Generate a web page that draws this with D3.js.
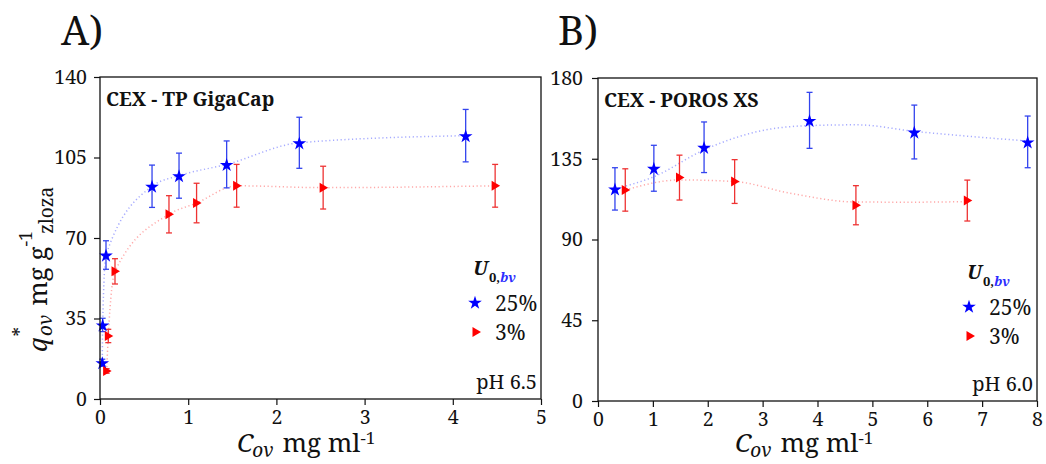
<!doctype html>
<html lang="en">
<head>
<meta charset="utf-8">
<title>q*ov vs Cov</title>
<style>
body { margin: 0; background: #fff; }
svg text { font-family: "Noto Serif", serif; }
</style>
</head>
<body>
<svg id="chart" width="1046" height="464"></svg>
<script src="https://d3js.org/d3.v7.min.js"></script>
<script>
// panel A - CEX TP GigaCap, pH 6.5
var aXTicks = [0, 1, 2, 3, 4, 5];
var aYTicks = [0, 35, 70, 105, 140];
var aStarX = [0.026, 0.03, 0.068, 0.59, 0.896, 1.436, 2.26, 4.146];
var aStarY = [15.8, 32.2, 62.6, 92.5, 97.1, 102.0, 111.4, 114.5];
var aStarErr = [1.5, 2.9, 6.2, 9.2, 9.8, 10.2, 11.1, 11.4];
var aTriX = [0.075, 0.094, 0.17, 0.782, 1.095, 1.549, 2.53, 4.48];
var aTriY = [12.2, 27.4, 55.5, 80.3, 85.2, 92.7, 91.9, 92.7];
var aTriErr = [1.0, 2.9, 5.5, 8.1, 8.6, 9.3, 9.3, 9.3];

// panel B - CEX POROS XS, pH 6.0
var bXTicks = [0, 1, 2, 3, 4, 5, 6, 7, 8];
var bYTicks = [0, 45, 90, 135, 180];
var bStarX = [0.309, 1.018, 1.933, 3.855, 5.764, 7.83];
var bStarY = [118.2, 129.7, 141.4, 156.4, 149.9, 144.4];
var bStarErr = [11.8, 12.8, 14.1, 15.6, 15.0, 14.4];
var bTriX = [0.497, 1.485, 2.49, 4.70, 6.73];
var bTriY = [117.6, 124.5, 122.3, 109.1, 111.7];
var bTriErr = [11.8, 12.5, 12.2, 10.9, 11.4];
// dotted trend lines
var bStarFitX = [0.31, 1.02, 1.93, 2.9, 3.86, 4.72, 5.76, 6.84, 7.83];
var bStarFitY = [118.2, 125, 139.9, 150.1, 153.5, 153.9, 150.3, 147.3, 144.9];
var bTriFitX = [0.5, 1.49, 2.49, 3.5, 4.7, 5.7, 6.73];
var bTriFitY = [117.6, 123.2, 122.3, 115.8, 110.9, 110.8, 111.1];

var legendLabels = ["25%", "3%"];

var FONT = "'Noto Serif', serif";
var svg = d3.select("#chart");

var triPath = "M-3.5,-5L5,0L-3.5,5Z";
var starPath = d3.symbol().type(d3.symbolStar).size(58)();

function zip(xs, ys, es) {
    return xs.map(function(x, i) { return {x: x, y: ys[i], e: es ? es[i] : 0}; });
}

function panel(o) {
    var x = d3.scaleLinear().domain(o.xDomain).range([o.left, o.right]);
    var y = d3.scaleLinear().domain(o.yDomain).range([o.bottom, o.top]);
    var g = svg.append("g");

    // dotted trend lines
    var line = d3.line().x(function(d) { return x(d.x); }).y(function(d) { return y(d.y); })
        .curve(d3.curveMonotoneX);
    g.append("path").datum(o.starFit).attr("d", line)
        .attr("fill", "none").attr("stroke", "#a6abff").attr("stroke-width", 1.5)
        .attr("stroke-dasharray", "1.2,2.6");
    g.append("path").datum(o.triFit).attr("d", line)
        .attr("fill", "none").attr("stroke", "#ffa8a8").attr("stroke-width", 1.5)
        .attr("stroke-dasharray", "1.2,2.6");

    // error bars
    function errBars(data, col) {
        var eb = g.append("g").attr("stroke", col).attr("stroke-width", 1.3);
        data.forEach(function(d) {
            var cx = x(d.x), y0 = y(d.y - d.e), y1 = y(d.y + d.e);
            eb.append("line").attr("x1", cx).attr("x2", cx).attr("y1", y0).attr("y2", y1);
            eb.append("line").attr("x1", cx - 3).attr("x2", cx + 3).attr("y1", y0).attr("y2", y0);
            eb.append("line").attr("x1", cx - 3).attr("x2", cx + 3).attr("y1", y1).attr("y2", y1);
        });
    }
    errBars(o.stars, "#3344ee");
    errBars(o.tris, "#ee3333");

    g.selectAll(".star").data(o.stars).enter().append("path")
        .attr("d", starPath).attr("fill", "#0000ff")
        .attr("transform", function(d) { return "translate(" + x(d.x) + "," + (y(d.y) + 0.8) + ")"; });
    g.selectAll(".tri").data(o.tris).enter().append("path")
        .attr("d", triPath).attr("fill", "#ff0000")
        .attr("transform", function(d) { return "translate(" + x(d.x) + "," + y(d.y) + ")"; });

    // axes
    var ax = g.append("g").attr("transform", "translate(0," + o.bottom + ")")
        .call(d3.axisBottom(x).tickValues(o.xTicks).tickFormat(d3.format("d"))
            .tickSize(6).tickSizeOuter(0).tickPadding(5));
    var ay = g.append("g").attr("transform", "translate(" + o.left + ",0)")
        .call(d3.axisLeft(y).tickValues(o.yTicks).tickSize(6).tickSizeOuter(0).tickPadding(o.yPad));
    [ax, ay].forEach(function(a) {
        a.attr("font-family", null).attr("font-size", null);
        a.selectAll("text").style("font-family", FONT).style("font-size", "19.5px").attr("fill", "#111");
        a.selectAll("line").attr("stroke", "#111").attr("stroke-width", 1.2);
        a.select(".domain").remove();
    });

    g.append("rect").attr("x", o.left).attr("y", o.top)
        .attr("width", o.right - o.left).attr("height", o.bottom - o.top)
        .attr("fill", "none").attr("stroke", "#111").attr("stroke-width", 1.3);

    // titles
    g.append("text").attr("x", o.left + 6).attr("y", o.top + 29)
        .attr("font-weight", "bold").attr("font-size", 19.5).attr("fill", "#111").text(o.title);
    svg.append("text").attr("x", o.tagX).attr("y", 45)
        .attr("font-size", 40).attr("fill", "#111").text(o.tag);

    g.append("text").attr("x", o.right - 4).attr("y", o.bottom - 10)
        .attr("text-anchor", "end").attr("font-size", 20).attr("fill", "#111").text(o.ph);

    // legend
    var lg = g.append("g").attr("transform", "translate(" + o.legX + "," + o.legY + ")");
    var u = lg.append("text").attr("x", -2).attr("y", 0).attr("fill", "#111");
    u.append("tspan").attr("font-size", 20).attr("font-weight", "bold").attr("font-style", "italic").text("U");
    u.append("tspan").attr("font-size", 13).attr("font-weight", "bold").attr("dy", 7).attr("dx", 1).text("0,");
    u.append("tspan").attr("font-size", 13).attr("font-weight", "bold").attr("font-style", "italic")
        .attr("fill", "#2b2bff").text("bv");
    lg.append("path").attr("d", starPath).attr("fill", "#0000ff").attr("transform", "translate(0,28)");
    lg.append("path").attr("d", triPath).attr("fill", "#ff0000").attr("transform", "translate(1,57)");
    lg.append("text").attr("x", 20).attr("y", 36).attr("font-size", 21).attr("fill", "#111").text(legendLabels[0]);
    lg.append("text").attr("x", 20).attr("y", 65).attr("font-size", 21).attr("fill", "#111").text(legendLabels[1]);

    // x axis title
    var xt = svg.append("text").attr("x", o.xTitleX).attr("y", 452).attr("font-size", 26).attr("fill", "#111");
    xt.append("tspan").attr("font-style", "italic").text("C");
    xt.append("tspan").attr("font-style", "italic").attr("font-size", 19).attr("dy", 5).attr("dx", -1).text("ov");
    xt.append("tspan").attr("dy", -5).attr("dx", 9).text("mg ml");
    xt.append("tspan").attr("font-size", 17).attr("dy", -8).text("-1");
}

panel({
    left: 100, right: 541, top: 77, bottom: 399,
    xDomain: [0, 5], yDomain: [0, 140], xTicks: aXTicks, yTicks: aYTicks, yPad: 7,
    stars: zip(aStarX, aStarY, aStarErr), tris: zip(aTriX, aTriY, aTriErr),
    starFit: zip(aStarX, aStarY), triFit: zip(aTriX, aTriY),
    title: "CEX - TP GigaCap", tag: "A)", tagX: 61, ph: "pH 6.5",
    legX: 475, legY: 275, xTitleX: 237
});
panel({
    left: 598, right: 1037, top: 78, bottom: 401,
    xDomain: [0, 8], yDomain: [0, 180], xTicks: bXTicks, yTicks: bYTicks, yPad: 9,
    stars: zip(bStarX, bStarY, bStarErr), tris: zip(bTriX, bTriY, bTriErr),
    starFit: zip(bStarFitX, bStarFitY), triFit: zip(bTriFitX, bTriFitY),
    title: "CEX - POROS XS", tag: "B)", tagX: 558, ph: "pH 6.0",
    legX: 969, legY: 279, xTitleX: 735
});

// y axis title (panel A only)
var yt = svg.append("text").attr("transform", "translate(47,352) rotate(-90)")
    .attr("font-size", 26).attr("fill", "#111");
yt.append("tspan").attr("font-style", "italic").text("q");
yt.append("tspan").attr("font-size", 19).attr("dy", -20).attr("dx", 1).text("*");
yt.append("tspan").attr("font-style", "italic").attr("font-size", 19).attr("dy", 25).attr("dx", -9).text("ov");
yt.append("tspan").attr("dy", -5).attr("dx", 9).text("mg g");
yt.append("tspan").attr("font-size", 18).attr("dy", -15).text("-1");
yt.append("tspan").attr("font-size", 19).attr("dy", 21).attr("dx", -3).text("zloza");
</script>
</body>
</html>
